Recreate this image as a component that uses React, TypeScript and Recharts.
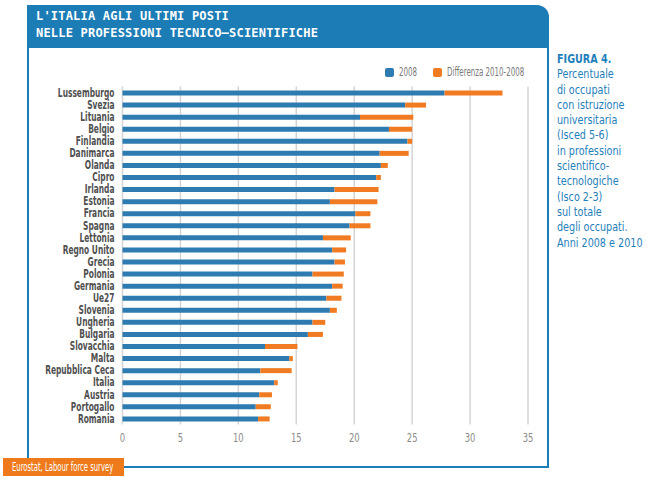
import { Bar, BarChart, CartesianGrid, XAxis, YAxis } from "recharts";

const paesi = [
  "Lussemburgo", "Svezia", "Lituania", "Belgio", "Finlandia", "Danimarca", "Olanda",
  "Cipro", "Irlanda", "Estonia", "Francia", "Spagna", "Lettonia", "Regno Unito",
  "Grecia", "Polonia", "Germania", "Ue27", "Slovenia", "Ungheria", "Bulgaria",
  "Slovacchia", "Malta", "Repubblica Ceca", "Italia", "Austria", "Portogallo", "Romania",
];

const valori2008 = [
  27.8, 24.4, 20.5, 23.0, 24.6, 22.2, 22.3,
  21.9, 18.3, 17.9, 20.1, 19.6, 17.3, 18.1,
  18.3, 16.4, 18.1, 17.6, 17.9, 16.4, 16.0,
  12.3, 14.4, 11.9, 13.1, 11.8, 11.5, 11.7,
];

const differenza = [
  5.0, 1.8, 4.6, 2.0, 0.4, 2.5, 0.6,
  0.4, 3.8, 4.1, 1.3, 1.8, 2.4, 1.2,
  0.9, 2.7, 0.9, 1.3, 0.6, 1.1, 1.3,
  2.8, 0.3, 2.7, 0.3, 1.1, 1.3, 1.0,
];

const tickX = [0, 5, 10, 15, 20, 25, 30, 35];

const data = paesi.map((p, i) => ({ paese: p, v2008: valori2008[i], diff: differenza[i] }));

const BLU = "#2e7bb1";
const ARANCIO = "#f07b22";
const CORNICE = "#1c7db6";
const FONT = "'DejaVu Sans', sans-serif";

const caption = [
  "Percentuale",
  "di occupati",
  "con istruzione",
  "universitaria",
  "(Isced 5-6)",
  "in professioni",
  "scientifico-",
  "tecnologiche",
  "(Isco 2-3)",
  "sul totale",
  "degli occupati.",
  "Anni 2008 e 2010",
];

const legenda = [
  { label: "2008", color: BLU },
  { label: "Differenza 2010-2008", color: ARANCIO },
];

// tick stretti: il font originale e' un condensed, qui si schiaccia DejaVu
const TickPaese = (props: any) => {
  const { x, y, payload } = props;
  return (
    <g transform={`translate(${x},${y}) scale(0.65,1.05)`}>
      <text x={0} y={0} dy={4} textAnchor="end" fill="#505050" fontSize={11.5} fontWeight="bold" fontFamily={FONT}>
        {payload.value}
      </text>
    </g>
  );
};

const TickNum = (props: any) => {
  const { x, y, payload } = props;
  return (
    <g transform={`translate(${x},${y}) scale(0.7,1.05)`}>
      <text x={0} y={0} dy={9} textAnchor="middle" fill="#8a8a8a" fontSize={12} fontFamily={FONT}>
        {payload.value}
      </text>
    </g>
  );
};

const narrow = (s: number) => ({ display: "inline-block", transform: `scaleX(${s})`, transformOrigin: "left center", whiteSpace: "nowrap" as const });

function App() {
  return (
    <div style={{ position: "absolute", left: 0, top: 0, width: 647, height: 481, background: "#fff", overflow: "hidden" }}>
      {/* header */}
      <div
        style={{
          position: "absolute", left: 27, top: 5, width: 522, height: 43, background: CORNICE,
          borderTopRightRadius: 12, color: "#fff", fontFamily: "'DejaVu Sans Mono', monospace",
          fontWeight: "bold", fontSize: 12, lineHeight: "17px", letterSpacing: 0.2,
          padding: "3px 0 0 9px", boxSizing: "border-box",
        }}
      >
        <div>L'ITALIA AGLI ULTIMI POSTI</div>
        <div>NELLE PROFESSIONI TECNICO–SCIENTIFICHE</div>
      </div>
      {/* cornice */}
      <div style={{ position: "absolute", left: 27, top: 48, width: 522, height: 420, borderLeft: `2px solid ${CORNICE}`, borderRight: `2px solid ${CORNICE}`, borderBottom: `2px solid ${CORNICE}`, boxSizing: "border-box" }} />

      <div style={{ position: "absolute", left: 0, top: 0 }}>
        <BarChart
          width={647}
          height={481}
          data={data}
          layout="vertical"
          margin={{ top: 86.5, right: 119, bottom: 26.5, left: 12.5 }}
          barSize={5}
        >
          <CartesianGrid horizontal={false} stroke="#d4d4d4" strokeWidth={1.5} />
          <XAxis
            type="number"
            domain={[0, 35]}
            ticks={tickX}
            axisLine={false}
            tickLine={false}
            tick={<TickNum />}
          />
          <YAxis
            type="category"
            dataKey="paese"
            width={110}
            interval={0}
            axisLine={false}
            tickLine={false}
            tick={<TickPaese />}
          />
          <Bar dataKey="v2008" stackId="a" fill={BLU} isAnimationActive={false} />
          <Bar dataKey="diff" stackId="a" fill={ARANCIO} isAnimationActive={false} />
        </BarChart>
      </div>

      {/* legenda */}
      <div style={{ position: "absolute", left: 385, top: 66, display: "flex", fontFamily: FONT, fontSize: 12, lineHeight: "12px", color: "#7a7a7a" }}>
        {legenda.map((it, i) => (
          <div key={it.label} style={{ display: "flex", alignItems: "center", width: i === 0 ? 48 : 100 }}>
            <span style={{ width: 9, height: 9, borderRadius: 2, background: it.color, marginRight: 5, flexShrink: 0 }} />
            <span style={narrow(0.59)}>{it.label}</span>
          </div>
        ))}
      </div>

      {/* didascalia */}
      <div style={{ position: "absolute", left: 557, top: 51, fontFamily: FONT, fontSize: 13, lineHeight: "15.3px", color: "#1f80ba" }}>
        <div><span style={{ ...narrow(0.74), fontWeight: "bold" }}>FIGURA 4.</span></div>
        {caption.map((c) => (
          <div key={c}><span style={narrow(0.74)}>{c}</span></div>
        ))}
      </div>

      {/* fonte */}
      <div
        style={{
          position: "absolute", left: 3, top: 458, width: 121, height: 18, background: "#ee7a1c",
          color: "#fff", fontFamily: FONT, fontSize: 12, lineHeight: "18px", paddingLeft: 9, boxSizing: "border-box",
        }}
      >
        <span style={narrow(0.57)}>Eurostat, Labour force survey</span>
      </div>
    </div>
  );
}

export default App;
